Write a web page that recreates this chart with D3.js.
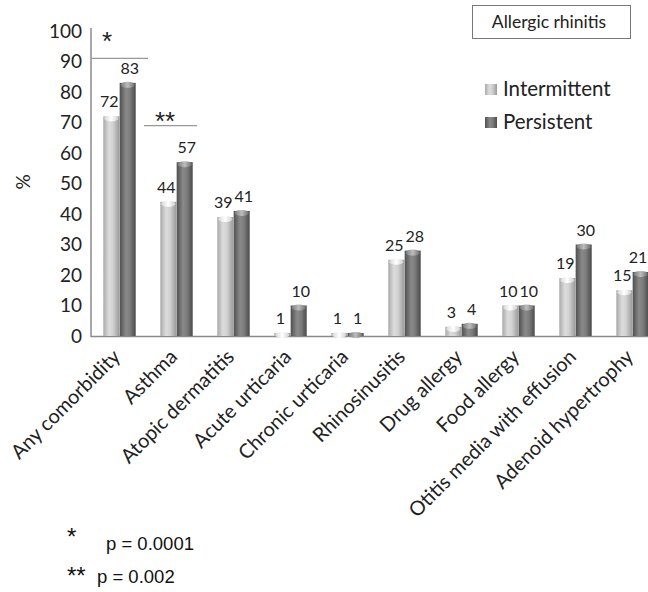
<!DOCTYPE html>
<html><head><meta charset="utf-8">
<script src="https://cdn.jsdelivr.net/npm/d3@7"></script>
<style>body{margin:0;background:#fff}svg{display:block}</style>
</head><body>
<svg id="c" width="648" height="592"></svg>
<script>
const categories = ["Any comorbidity","Asthma","Atopic dermatitis","Acute urticaria","Chronic urticaria","Rhinosinusitis","Drug allergy","Food allergy","Otitis media with effusion","Adenoid hypertrophy"];
const intermittent = [72,44,39,1,1,25,3,10,19,15];
const persistent = [83,57,41,10,1,28,4,10,30,21];
const seriesNames = ["Intermittent","Persistent"];
const yTicks = [0,10,20,30,40,50,60,70,80,90,100];
const sigMarks = [{cat:"Any comorbidity", level:91, text:"*"},{cat:"Asthma", level:69, text:"**"}];
const footnotes = [{mark:"*", text:"p = 0.0001"},{mark:"**", text:"p = 0.002"}];

const svg = d3.select("#c");
const font = "Lato, 'Open Sans', sans-serif";
const x0 = d3.scaleBand().domain(categories).range([91, 661]).paddingInner(0.42).paddingOuter(0.21);
const x1 = d3.scaleBand().domain(seriesNames).range([0, x0.bandwidth()]).padding(0.02);
const y = d3.scaleLinear().domain([0,100]).range([336, 31]);

const defs = svg.append("defs");
function grad(id, stops){
  const g = defs.append("linearGradient").attr("id", id).attr("x1","0%").attr("x2","100%").attr("y1","0%").attr("y2","0%");
  stops.forEach(s => g.append("stop").attr("offset", s[0]).attr("stop-color", s[1]));
}
grad("gI", [["0%","#a9a9a9"],["35%","#dcdcdc"],["60%","#d2d2d2"],["100%","#9a9a9a"]]);
grad("gP", [["0%","#4f4f4f"],["40%","#8a8a8a"],["65%","#7c7c7c"],["100%","#4a4a4a"]]);
grad("gIt", [["0%","#d8d8d8"],["50%","#ffffff"],["100%","#d0d0d0"]]);
grad("gPt", [["0%","#7a7a7a"],["50%","#bdbdbd"],["100%","#707070"]]);

// baseline
svg.append("line").attr("x1",91).attr("x2",661).attr("y1",y(0)+0.5).attr("y2",y(0)+0.5).attr("stroke","#8a8a8a").attr("stroke-width",1.5);

// y axis
const yAxis = d3.axisLeft(y).tickValues(yTicks).tickSize(0).tickPadding(9);
const ga = svg.append("g").attr("transform","translate(91,0)").call(yAxis);
ga.select(".domain").attr("stroke","#8a8a8a").attr("stroke-width",1.5).attr("d","M0,28V337");
ga.selectAll("text").attr("font-family",font).attr("font-size",19).attr("fill","#222");

svg.append("text").attr("transform","translate(30,182) rotate(-90)").attr("text-anchor","middle")
  .attr("font-family",font).attr("font-size",19).attr("fill","#222").text("%");

// bars
const data = categories.map((c,i)=>({cat:c, vals:[{s:"Intermittent",v:intermittent[i]},{s:"Persistent",v:persistent[i]}]}));
const grp = svg.append("g").selectAll("g").data(data).join("g").attr("transform", d=>`translate(${x0(d.cat)},0)`);
const bar = grp.selectAll("g").data(d=>d.vals).join("g");
bar.append("rect")
  .attr("x", d=>x1(d.s)).attr("width", x1.bandwidth())
  .attr("y", d=>y(d.v)).attr("height", d=>y(0)-y(d.v))
  .attr("fill", d=> d.s==="Intermittent" ? "url(#gI)" : "url(#gP)");
bar.append("ellipse")
  .attr("cx", d=>x1(d.s)+x1.bandwidth()/2).attr("cy", d=>y(d.v)+2)
  .attr("rx", x1.bandwidth()/2-1).attr("ry", 3)
  .attr("fill", d=> d.s==="Intermittent" ? "url(#gIt)" : "url(#gPt)");
grp.each(function(d){
  const gx = x0(d.cat);
  d3.select(this).selectAll("text.val").data(d.vals).join("text").attr("class","val")
    .attr("x", v => Math.min(x1(v.s)+x1.bandwidth()/2 + (v.s==="Intermittent"?-2:2), 638 - gx))
    .attr("y", v => y(v.v)-9)
    .attr("text-anchor","middle").attr("font-family",font).attr("font-size",16).attr("fill","#222")
    .text(v => v.v);
});

// significance marks
sigMarks.forEach((m,i)=>{
  const xs = i===0 ? [91, x0(m.cat)+x0.bandwidth()+12] : [x0(m.cat)-16, x0(m.cat)+x0.bandwidth()+4];
  svg.append("line").attr("x1",xs[0]).attr("x2",xs[1]).attr("y1",y(m.level)).attr("y2",y(m.level)).attr("stroke","#999").attr("stroke-width",1.2);
  svg.append("text").attr("x", i===0 ? 102 : x0(m.cat)-5).attr("y", y(m.level) + (i===0 ? -8 : 4))
    .attr("font-family","'Liberation Sans', Arial, sans-serif").attr("font-size",26).attr("fill","#222").text(m.text);
});

// x labels
svg.append("g").selectAll("text").data(categories).join("text")
  .attr("transform", d=>`translate(${x0(d)+x0.bandwidth()/2+2},358) rotate(-45)`)
  .attr("text-anchor","end")
  .attr("font-family",font).attr("font-size",20).attr("fill","#222").text(d=>d);

// title box
svg.append("rect").attr("x",472.5).attr("y",5.5).attr("width",158).attr("height",33).attr("fill","#fff").attr("stroke","#777").attr("stroke-width",1);
svg.append("text").attr("x",549).attr("y",28).attr("text-anchor","middle").attr("font-family",font).attr("font-size",17.5).attr("fill","#222").text("Allergic rhinitis");

// legend
const lg = svg.append("g").selectAll("g").data(seriesNames).join("g").attr("transform",(d,i)=>`translate(485,${84+i*33})`);
lg.append("rect").attr("width",12).attr("height",11).attr("fill",(d,i)=> i===0 ? "url(#gI)" : "url(#gP)");
lg.append("text").attr("x",18).attr("y",12).attr("font-family",font).attr("font-size",20.5).attr("fill","#222").text(d=>d);

// footnotes
const fn = svg.append("g").selectAll("g").data(footnotes).join("g");
fn.append("text").attr("x",67).attr("y",(d,i)=> i===0 ? 545 : 584).attr("font-family","'Liberation Sans', Arial, sans-serif").attr("font-size",24).attr("fill","#111").text(d=>d.mark);
fn.append("text").attr("x",(d,i)=> i===0 ? 106 : 97).attr("y",(d,i)=> i===0 ? 550 : 583).attr("font-family","'Liberation Sans', Arial, sans-serif").attr("font-size",18.5).attr("fill","#111").text(d=>d.text);
</script>
</body></html>
